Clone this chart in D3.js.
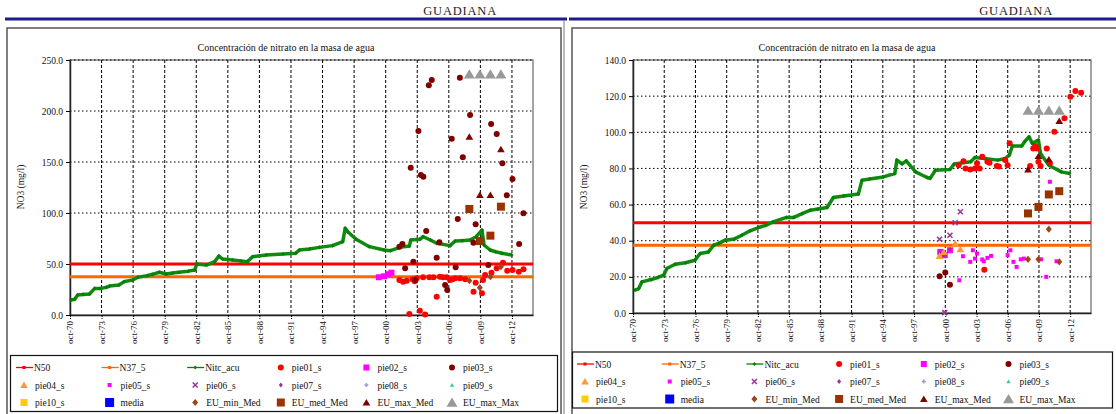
<!DOCTYPE html>
<html>
<head>
<meta charset="utf-8">
<script src="https://cdn.jsdelivr.net/npm/d3@7"></script>
<style>
  body { margin: 0; background: #fff; }
  svg { display: block; font-family: "Liberation Serif", "DejaVu Serif", serif; }
</style>
</head>
<body>
<svg id="chart" width="1116" height="414"></svg>
<script>
// ---- axis ticks -------------------------------------------------------
const tickYears  = [1970.75, 1973.75, 1976.75, 1979.75, 1982.75, 1985.75, 1988.75,
                    1991.75, 1994.75, 1997.75, 2000.75, 2003.75, 2006.75, 2009.75, 2012.75];
const tickLabels = ["oct-70", "oct-73", "oct-76", "oct-79", "oct-82", "oct-85", "oct-88",
                    "oct-91", "oct-94", "oct-97", "oct-00", "oct-03", "oct-06", "oct-09", "oct-12"];
const yTicksLeft  = [0, 50, 100, 150, 200, 250];
const yTicksRight = [0, 20, 40, 60, 80, 100, 120, 140];

// reference levels (mg/l)
const n50Level  = 50;
const n375Level = 37.5;

// ---- left panel series: [decimal year, NO3 mg/l] -----------------------
const leftNitc = [
  [1970.85, 14.7], [1971.2, 15.5], [1971.48, 19.6], [1972.0, 20.2], [1972.6, 20.6],
  [1973.1, 26.1], [1973.6, 26.0], [1974.2, 27.1], [1974.5, 28.4], [1975.4, 29.4],
  [1975.9, 32.7], [1976.7, 34.3], [1977.2, 37.0], [1978.1, 38.6], [1978.6, 39.9],
  [1979.24, 41.9], [1979.9, 40.2], [1980.5, 41.2], [1981.1, 41.9], [1982.0, 43.0],
  [1982.6, 44.1], [1982.8, 50.0], [1983.7, 49.0], [1984.5, 52.3], [1984.9, 57.8],
  [1985.25, 54.9], [1986.2, 53.9], [1987.0, 53.0], [1987.6, 52.3], [1988.1, 57.2],
  [1989.4, 58.8], [1991.0, 59.8], [1992.2, 60.5], [1992.55, 63.7], [1993.5, 64.8],
  [1994.45, 66.3], [1995.7, 68.0], [1996.67, 71.9], [1996.9, 85.0], [1997.15, 81.7],
  [1997.94, 74.2], [1999.2, 67.0], [2000.6, 63.7], [2001.2, 63.1], [2002.1, 66.3],
  [2003.0, 67.6], [2003.13, 73.5], [2004.0, 74.2], [2004.3, 76.8], [2005.0, 73.5],
  [2005.6, 70.3], [2006.87, 68.0], [2007.35, 72.5], [2008.0, 72.9], [2008.77, 73.5],
  [2009.35, 76.8], [2009.9, 83.3], [2010.1, 68.6], [2010.67, 63.7], [2011.2, 62.0],
  [2011.8, 60.5], [2012.73, 58.8]
];
const leftPie01 = [
  [2002.05, 34.3], [2002.4, 32.7], [2002.75, 33.6], [2003.0, 1.0], [2003.3, 35.0],
  [2003.5, 33.0], [2003.7, 36.0], [2004.0, 4.2], [2004.3, 37.0], [2004.5, 0.5],
  [2004.9, 37.0], [2005.3, 37.0], [2005.6, 18.0], [2005.9, 37.6], [2006.2, 37.0],
  [2006.55, 37.0], [2006.87, 34.3], [2007.1, 35.0], [2007.35, 36.0], [2007.82, 36.0],
  [2008.3, 35.0], [2009.1, 22.9], [2009.3, 31.7], [2009.9, 21.3], [2010.0, 34.3],
  [2010.2, 39.2], [2010.8, 41.5], [2011.3, 45.8], [2011.9, 51.3], [2012.3, 43.4],
  [2012.8, 44.1], [2013.4, 42.5], [2013.85, 44.8]
];
const leftPie02 = [[2000.1, 37.0], [2000.6, 38.0], [2001.0, 40.0], [2001.3, 41.5]];
const leftPie03 = [
  [2005.13, 230.4], [2004.85, 225.2], [2007.8, 232.7], [2008.77, 196.1], [2010.77, 187.3],
  [2011.3, 177.5], [2003.86, 180.4], [2007.03, 172.9], [2008.08, 154.6], [2011.84, 148.7],
  [2003.13, 144.4], [2004.1, 137.3], [2004.33, 135.6], [2012.8, 133.3], [2012.26, 117.3],
  [2013.84, 99.7], [2007.6, 94.1], [2004.6, 82.4], [2009.3, 88.9], [2002.34, 69.6],
  [2002.05, 67.0], [2005.85, 71.3], [2009.09, 70.9], [2013.43, 69.6], [2003.38, 52.3],
  [2010.5, 49.0], [2002.6, 45.8], [2005.6, 56.2], [2007.4, 46.7], [2003.55, 34.3],
  [2006.4, 29.4], [2006.6, 24.5]
];
const leftEuMin    = [[2008.7, 33.6], [2009.7, 26.8], [2010.7, 37.6], [2011.7, 47.4]];
const leftEuMed    = [[2008.7, 103.9], [2009.7, 72.5], [2010.7, 77.8], [2011.7, 106.2]];
const leftEuMaxMed = [[2008.7, 174.8], [2009.7, 117.6], [2010.7, 117.6], [2011.7, 162.4]];
const leftEuMaxMax = [[2008.7, 236], [2009.7, 236], [2010.7, 236], [2011.7, 236]];

// ---- right panel series ------------------------------------------------
const rightNitc = [
  [1970.94, 12.6], [1971.3, 13.5], [1971.6, 17.2], [1972.5, 18.5], [1973.2, 19.8],
  [1973.7, 20.9], [1974.0, 24.6], [1974.8, 27.0], [1975.8, 27.8], [1976.7, 29.2],
  [1977.2, 32.9], [1978.0, 33.8], [1978.5, 37.5], [1979.0, 38.5], [1979.6, 40.3],
  [1980.5, 41.0], [1981.2, 43.0], [1982.0, 45.5], [1982.8, 47.3], [1983.5, 48.5],
  [1984.2, 50.4], [1985.5, 52.9], [1986.2, 52.9], [1987.0, 55.0], [1987.8, 56.9],
  [1988.5, 57.5], [1989.4, 58.4], [1990.0, 63.9], [1991.0, 64.8], [1992.4, 65.8],
  [1992.75, 73.5], [1993.5, 74.2], [1994.8, 75.3], [1995.9, 77.2], [1996.1, 84.6],
  [1996.6, 82.5], [1997.0, 84.2], [1997.9, 78.1], [1999.0, 75.0], [1999.3, 74.5],
  [1999.8, 79.0], [2001.2, 79.4], [2001.6, 82.4], [2003.2, 83.7], [2003.6, 86.1],
  [2004.5, 85.5], [2005.8, 84.6], [2006.5, 85.5], [2006.9, 87.4], [2007.2, 92.4],
  [2008.1, 92.4], [2008.4, 95.0], [2008.8, 97.5], [2009.1, 93.9], [2009.7, 95.7],
  [2009.9, 88.3], [2010.7, 81.8], [2011.9, 78.1], [2012.7, 77.2]
];
const rightPie01 = [
  [2002.03, 81.8], [2002.5, 84.0], [2002.7, 80.0], [2003.15, 79.4], [2003.6, 80.0],
  [2003.8, 82.8], [2004.05, 80.0], [2004.3, 86.4], [2004.8, 83.7], [2005.0, 83.1],
  [2005.7, 81.3], [2005.9, 81.0], [2006.5, 84.6], [2006.74, 81.8], [2006.93, 93.9],
  [2008.9, 81.3], [2009.2, 91.0], [2009.4, 92.4], [2009.55, 91.0], [2009.7, 83.7],
  [2009.9, 81.3], [2010.5, 91.0], [2010.8, 82.8], [2011.23, 100.3], [2012.2, 107.7],
  [2012.77, 119.7], [2013.25, 122.8], [2013.8, 121.9], [2004.5, 24.0]
];
const rightPie02 = [[2000.27, 33.8], [2000.7, 32.0], [2001.2, 34.7]];
const rightPie03 = [[2000.2, 20.3], [2000.75, 22.4], [2001.2, 15.7]];
const rightPie04 = [[2000.2, 31.5], [2000.6, 33.8], [2001.7, 38.4], [2002.2, 35.3]];
const rightPie05 = [
  [2002.1, 18.1], [2002.45, 31.4], [2003.15, 28.3], [2003.4, 34.7], [2003.6, 30.1],
  [2003.8, 32.9], [2004.3, 29.6], [2004.45, 28.6], [2004.8, 30.5], [2005.15, 31.6],
  [2006.74, 32.0], [2007.0, 34.7], [2007.3, 28.3], [2007.6, 25.5], [2008.0, 29.7],
  [2008.3, 30.1], [2009.95, 29.7], [2010.45, 20.0], [2010.8, 72.6], [2011.43, 28.6]
];
const rightPie06 = [[2000.2, 40.8], [2000.3, 32.9], [2000.7, 0.2], [2001.2, 43.0], [2001.7, 49.9], [2002.2, 56.0]];
const rightPie07 = [[2000.2, 32.3], [2000.7, 31.6], [2001.2, 35.3]];
const rightEuMin    = [[2008.7, 29.7], [2009.7, 29.7], [2010.7, 46.4], [2011.7, 28.3]];
const rightEuMed    = [[2008.7, 55.1], [2009.7, 58.7], [2010.7, 65.6], [2011.7, 67.4]];
const rightEuMaxMed = [[2008.7, 79.4], [2009.7, 86.8], [2010.7, 85.0], [2011.7, 106.2]];
const rightEuMaxMax = [[2008.7, 112], [2009.7, 112], [2010.7, 112], [2011.7, 112]];

// ---- legend entries ----------------------------------------------------
const legendNames = ["N50", "N37_5", "Nitc_acu", "pie01_s", "pie02_s", "pie03_s",
                     "pie04_s", "pie05_s", "pie06_s", "pie07_s", "pie08_s", "pie09_s",
                     "pie10_s", "media", "EU_min_Med", "EU_med_Med", "EU_max_Med", "EU_max_Max"];

// marker appearance for each series
const styles = {
  "N50":        { line: "#ff0000", shape: "square",   color: "#ff0000", size: 3 },
  "N37_5":      { line: "#ff6600", shape: "square",   color: "#ff6600", size: 3 },
  "Nitc_acu":   { line: "#008000", shape: "diamond",  color: "#008000", size: 3.5 },
  "pie01_s":    { shape: "circle",   color: "#ff0000", size: 6 },
  "pie02_s":    { shape: "square",   color: "#ff00ff", size: 6 },
  "pie03_s":    { shape: "circle",   color: "#800000", size: 6 },
  "pie04_s":    { shape: "triangle", color: "#ff9933", size: 7 },
  "pie05_s":    { shape: "square",   color: "#ff00ff", size: 4 },
  "pie06_s":    { shape: "x",        color: "#993399", size: 5 },
  "pie07_s":    { shape: "diamond",  color: "#993399", size: 4 },
  "pie08_s":    { shape: "plus",     color: "#9999cc", size: 4 },
  "pie09_s":    { shape: "triangle", color: "#33cc99", size: 4 },
  "pie10_s":    { shape: "square",   color: "#ffcc00", size: 7 },
  "media":      { shape: "square",   color: "#0000ff", size: 9 },
  "EU_min_Med": { shape: "diamond",  color: "#a0441a", size: 6 },
  "EU_med_Med": { shape: "square",   color: "#993300", size: 8 },
  "EU_max_Med": { shape: "triangle", color: "#800000", size: 7 },
  "EU_max_Max": { shape: "triangle", color: "#999999", size: 10 }
};

const svg = d3.select("#chart");

function markerPath(shape, s) {
  const h = s / 2;
  switch (shape) {
    case "circle":   return d3.symbol(d3.symbolCircle, Math.PI * h * h)();
    case "square":   return `M${-h},${-h}H${h}V${h}H${-h}Z`;
    case "diamond":  return `M0,${-h * 1.2}L${h},0L0,${h * 1.2}L${-h},0Z`;
    case "triangle": return `M0,${-h}L${h * 1.1},${h * 0.85}L${-h * 1.1},${h * 0.85}Z`;
    case "x":        return `M${-h},${-h}L${h},${h}M${h},${-h}L${-h},${h}`;
    case "plus":     return `M${-h},0H${h}M0,${-h}V${h}`;
  }
}

function drawMarker(sel, name) {
  const st = styles[name];
  const stroke = st.shape === "x" || st.shape === "plus";
  return sel.attr("d", markerPath(st.shape, st.size))
    .attr("fill", stroke ? "none" : st.color)
    .attr("stroke", stroke ? st.color : "none")
    .attr("stroke-width", stroke ? 1.5 : 0);
}

// ---- page decoration (header band, panel frames) ----------------------
const header = svg.append("g");
[[5, 567, 497], [569, 1116, 1053]].forEach(([x0, x1, tx]) => {
  header.append("rect").attr("x", x0).attr("y", 17.5).attr("width", x1 - x0).attr("height", 3)
    .attr("fill", "#1c1c8c");
  header.append("text").attr("x", tx).attr("y", 14.5).attr("text-anchor", "end")
    .attr("font-size", 12.5).attr("letter-spacing", 0.8).attr("fill", "#222").text("GUADIANA");
});
header.append("rect").attr("x", 7).attr("y", 28).attr("width", 554).attr("height", 400)
  .attr("fill", "none").attr("stroke", "#555").attr("stroke-width", 1.5);
header.append("line").attr("x1", 564).attr("x2", 564).attr("y1", 20).attr("y2", 414)
  .attr("stroke", "#777").attr("stroke-width", 1);
header.append("rect").attr("x", 572).attr("y", 28).attr("width", 560).attr("height", 400)
  .attr("fill", "none").attr("stroke", "#555").attr("stroke-width", 1.5);

// ---- chart panel ------------------------------------------------------
function drawPanel(p) {
  const g = svg.append("g");
  const x = d3.scaleLinear().domain([1970.75, 2014.75]).range([p.left, p.right]);
  const y = d3.scaleLinear().domain([0, p.yMax]).range([p.bottom, p.top]);

  g.append("text").attr("x", p.titleX).attr("y", 51).attr("text-anchor", "middle")
    .attr("font-size", 10).attr("fill", "#111")
    .text("Concentración de nitrato en la masa de agua");

  // plot border
  g.append("rect").attr("x", p.left).attr("y", p.top)
    .attr("width", p.right - p.left).attr("height", p.bottom - p.top)
    .attr("fill", "none").attr("stroke", "#666").attr("stroke-width", 1.2);

  // grid
  g.append("g").selectAll("line").data(p.yTicks.slice(1)).join("line")
    .attr("x1", p.left).attr("x2", p.right)
    .attr("y1", d => y(d)).attr("y2", d => y(d))
    .attr("stroke", "#000").attr("stroke-width", 1).attr("stroke-dasharray", "1.5,2.5");
  g.append("g").selectAll("line").data(tickYears.slice(1)).join("line")
    .attr("x1", d => x(d)).attr("x2", d => x(d))
    .attr("y1", p.top).attr("y2", p.bottom)
    .attr("stroke", "#000").attr("stroke-width", 1).attr("stroke-dasharray", "3,2");

  // axes
  const ya = g.append("g").attr("transform", `translate(${p.left},0)`)
    .call(d3.axisLeft(y).tickValues(p.yTicks).tickFormat(d3.format(".1f")).tickSize(4).tickSizeOuter(0));
  ya.attr("font-family", null);
  ya.select(".domain").attr("stroke", "#222").attr("stroke-width", 1.5);
  ya.selectAll("text").attr("font-size", 9.5).attr("fill", "#111");

  const xa = g.append("g").attr("transform", `translate(0,${p.bottom})`)
    .call(d3.axisBottom(x).tickValues(tickYears).tickFormat((d, i) => tickLabels[i]).tickSize(4).tickSizeOuter(0));
  xa.attr("font-family", null);
  xa.select(".domain").attr("stroke", "#222").attr("stroke-width", 1.5);
  xa.selectAll(".tick line").attr("stroke-dasharray", "2,1");
  xa.selectAll("text").attr("font-size", 9).attr("fill", "#111")
    .attr("transform", "rotate(-90)").attr("text-anchor", "end")
    .attr("x", -6).attr("y", 0).attr("dy", "0.32em");

  g.append("text").attr("transform", `translate(${p.yTitleX},187) rotate(-90)`)
    .attr("text-anchor", "middle").attr("font-size", 9.5).attr("fill", "#111").text("NO3 (mg/l)");

  // reference levels
  [[n50Level, "N50"], [n375Level, "N37_5"]].forEach(([v, name]) => {
    g.append("line").attr("x1", p.left).attr("x2", p.right)
      .attr("y1", y(v)).attr("y2", y(v))
      .attr("stroke", styles[name].line).attr("stroke-width", 3);
  });

  // accumulated nitrate line
  const line = d3.line().x(d => x(d[0])).y(d => y(d[1]));
  g.append("path").datum(p.nitc).attr("d", line)
    .attr("fill", "none").attr("stroke", "#108a10").attr("stroke-width", 3.5).attr("stroke-linejoin", "round");
  g.append("g").selectAll("path").data(p.nitc).join("path")
    .attr("transform", d => `translate(${x(d[0])},${y(d[1])})`)
    .call(drawMarker, "Nitc_acu");

  // point series
  p.points.forEach(([name, data]) => {
    g.append("g").selectAll("path").data(data).join("path")
      .attr("transform", d => `translate(${x(d[0])},${y(d[1])})`)
      .call(drawMarker, name);
  });

  // legend
  const lg = g.append("g");
  lg.append("rect").attr("x", p.legX).attr("y", p.legY).attr("width", p.legW).attr("height", 56)
    .attr("fill", "#fff").attr("stroke", "#111").attr("stroke-width", 1.2);
  legendNames.forEach((name, i) => {
    const cx = p.legCol0 + (i % 6) * p.legStep;
    const cy = p.legY + 12 + Math.floor(i / 6) * 17.5;
    const st = styles[name];
    if (st.line) {
      lg.append("line").attr("x1", cx - 8).attr("x2", cx + 9).attr("y1", cy).attr("y2", cy)
        .attr("stroke", st.line).attr("stroke-width", 1.3);
    }
    lg.append("path").attr("transform", `translate(${cx},${cy})`).call(drawMarker, name);
    lg.append("text").attr("x", st.line ? cx + 10 : cx + 11).attr("y", cy + 3.5)
      .attr("font-size", 9.5).attr("fill", "#111").text(name);
  });
}

drawPanel({
  left: 70, right: 533, top: 60, bottom: 315, yMax: 250, yTicks: yTicksLeft,
  titleX: 286, yTitleX: 24,
  nitc: leftNitc,
  points: [["pie02_s", leftPie02], ["pie01_s", leftPie01], ["pie03_s", leftPie03],
           ["EU_min_Med", leftEuMin], ["EU_med_Med", leftEuMed],
           ["EU_max_Med", leftEuMaxMed], ["EU_max_Max", leftEuMaxMax]],
  legX: 10.5, legY: 355.5, legW: 547, legCol0: 24, legStep: 85.6
});

drawPanel({
  left: 633, right: 1091, top: 60, bottom: 313, yMax: 140, yTicks: yTicksRight,
  titleX: 847, yTitleX: 587,
  nitc: rightNitc,
  points: [["pie05_s", rightPie05], ["pie02_s", rightPie02], ["pie06_s", rightPie06],
           ["pie07_s", rightPie07], ["pie04_s", rightPie04], ["pie03_s", rightPie03],
           ["pie01_s", rightPie01], ["EU_min_Med", rightEuMin], ["EU_med_Med", rightEuMed],
           ["EU_max_Med", rightEuMaxMed], ["EU_max_Max", rightEuMaxMax]],
  legX: 572.5, legY: 352, legW: 540, legCol0: 585, legStep: 84.7
});
</script>
</body>
</html>
